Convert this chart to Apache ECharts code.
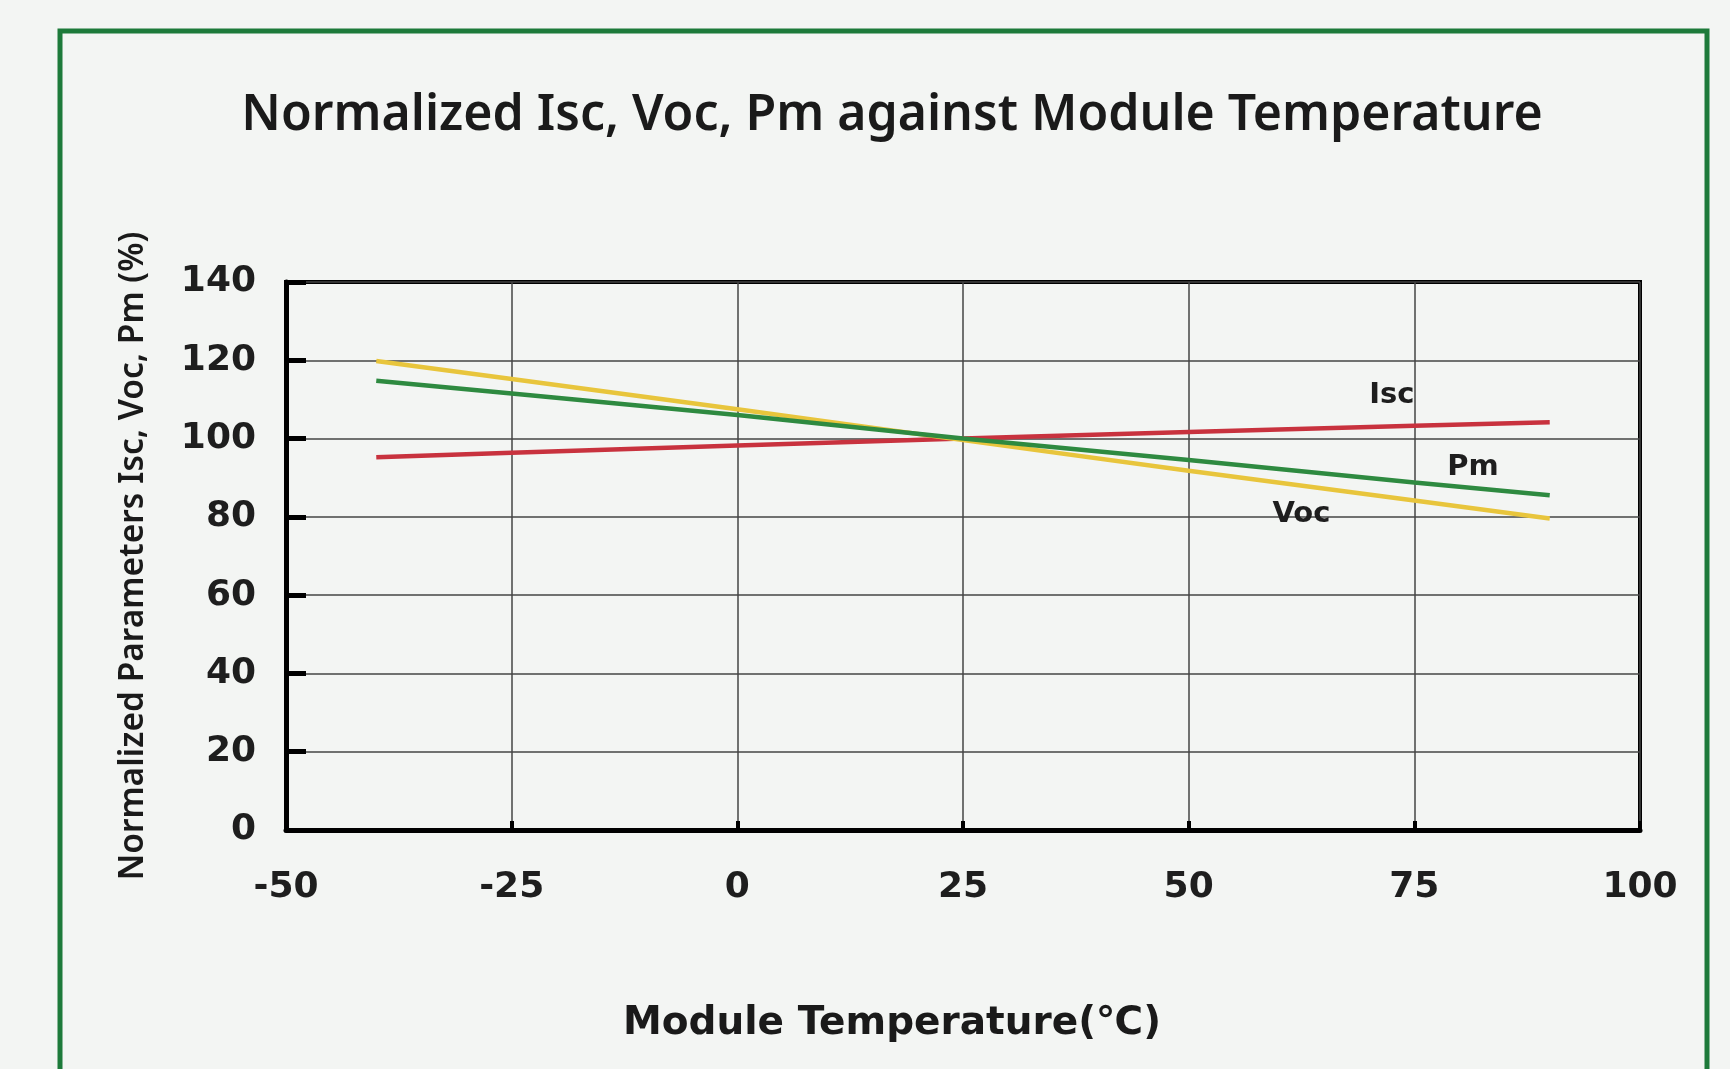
<!DOCTYPE html>
<html>
<head>
<meta charset="utf-8">
<script src="https://cdn.jsdelivr.net/npm/echarts@6/dist/echarts.min.js"></script>
<style>
html,body{margin:0;padding:0;background:#f3f5f3;}
#chart{width:1730px;height:1069px;}
</style>
</head>
<body>
<div id="chart"></div>
<script>
const temps = [-40, -25, 0, 25, 50, 75, 90];
const iscValues = [95.2, 96.4, 98.2, 100, 101.7, 103.3, 104.2];
const pmValues  = [114.8, 111.5, 106.0, 100, 94.5, 88.8, 85.5];
const vocValues = [119.8, 115.2, 107.5, 99.6, 91.8, 84.2, 79.6];
const xTicks = [-50, -25, 0, 25, 50, 75, 100];
const yTicks = [0, 20, 40, 60, 80, 100, 120, 140];
const seriesLabels = [
  {text: 'Isc', at: [72.5, 111]},
  {text: 'Pm',  at: [81.5, 92.5]},
  {text: 'Voc', at: [62.5, 80.5]}
];
const titleText = 'Normalized Isc, Voc, Pm against Module Temperature';
const xName = 'Module Temperature(\u2103)';
const yName = 'Normalized Parameters Isc, Voc, Pm (%)';

const chart = echarts.init(document.getElementById('chart'));
const pair = vals => temps.map((t, i) => [t, vals[i]]);
const tickFont = {fontFamily: 'DejaVu Sans', fontWeight: 'bold', fontSize: 36, color: '#1e1e1e'};

chart.setOption({
  backgroundColor: '#f3f5f3',
  animation: false,
  grid: {left: 286, right: 90, top: 282, bottom: 239, show: true, borderColor: '#000', borderWidth: 4, backgroundColor: 'transparent'},
  xAxis: {
    type: 'value', min: -50, max: 100, interval: 25,
    axisLine: {show: true, onZero: false, lineStyle: {color: '#000', width: 5}},
    axisTick: {show: true, inside: true, length: 9, lineStyle: {color: '#000', width: 4}},
    axisLabel: Object.assign({margin: 40, formatter: v => xTicks.includes(v) ? String(v) : ''}, tickFont),
    splitLine: {show: true, lineStyle: {color: '#444', width: 1.5}}
  },
  yAxis: {
    type: 'value', min: 0, max: 140, interval: 20,
    name: yName, nameLocation: 'middle', nameGap: 136,
    nameTextStyle: {fontFamily: 'Noto Sans', fontWeight: 600, fontSize: 33.5, color: '#1a1a1a'},
    axisLine: {show: true, onZero: false, lineStyle: {color: '#000', width: 5}},
    axisTick: {show: true, inside: true, length: 20, lineStyle: {color: '#000', width: 5}},
    axisLabel: Object.assign({margin: 30, formatter: v => yTicks.includes(v) ? String(v) : ''}, tickFont),
    splitLine: {show: true, lineStyle: {color: '#444', width: 1.5}}
  },
  series: [
    {name: 'Isc', type: 'line', data: pair(iscValues), showSymbol: false, lineStyle: {color: '#c8323e', width: 4.5}, z: 3},
    {name: 'Pm', type: 'line', data: pair(pmValues), showSymbol: false, lineStyle: {color: '#2e8a40', width: 4.5}, z: 4},
    {name: 'Voc', type: 'line', data: pair(vocValues), showSymbol: false, lineStyle: {color: '#e8c53c', width: 4.5}, z: 3}
  ]
});

const graphics = [
  {type: 'rect', shape: {x: 60, y: 31, width: 1647, height: 1100},
   style: {fill: 'none', stroke: '#1d7a3a', lineWidth: 5}, silent: true, z: -1},
  {type: 'text', x: 892, y: 116,
   style: {text: titleText, fontFamily: 'Noto Sans', fontWeight: 600, fontSize: 50, fill: '#1a1a1a', align: 'center', verticalAlign: 'middle'}},
  {type: 'text', x: 892, y: 1024,
   style: {text: xName, fontFamily: 'DejaVu Sans', fontWeight: 'bold', fontSize: 39, fill: '#1a1a1a', align: 'center', verticalAlign: 'middle'}}
];
seriesLabels.forEach(l => {
  const p = chart.convertToPixel({gridIndex: 0}, l.at);
  graphics.push({
    type: 'text', x: p[0], y: p[1],
    style: {text: l.text, fontFamily: 'DejaVu Sans', fontWeight: 'bold', fontSize: 29, fill: '#1e1e1e', align: 'center', verticalAlign: 'middle'},
    z: 10
  });
});
chart.setOption({graphic: graphics});
</script>
</body>
</html>
